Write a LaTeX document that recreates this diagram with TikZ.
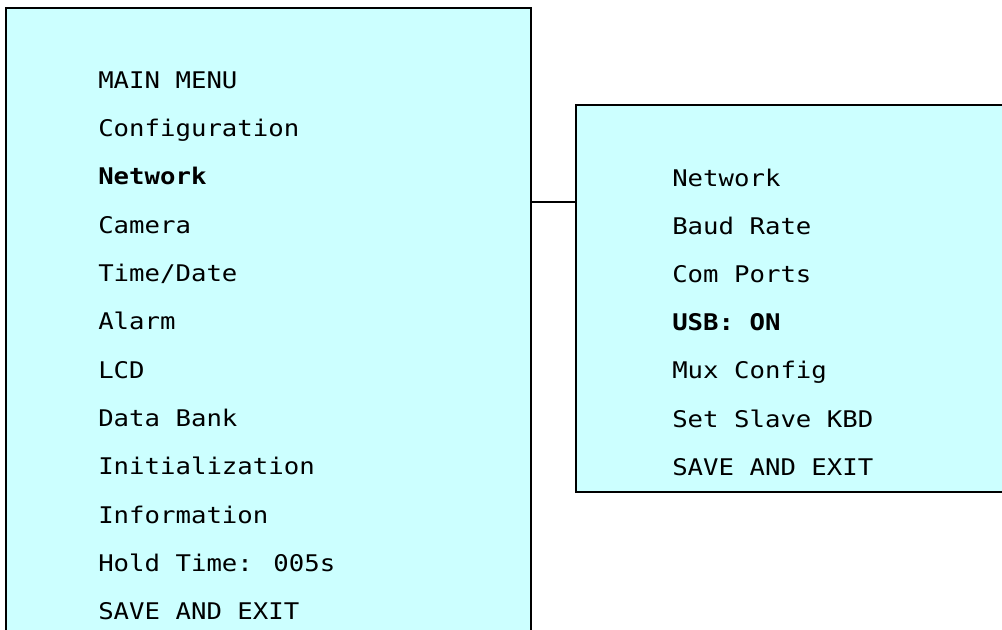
\documentclass[tikz,border=0pt]{standalone}
\usepackage{fontspec}
\newfontfamily\menufont[FakeStretch=1.12]{DejaVu Sans Mono}
\usetikzlibrary{fit}
\definecolor{menufill}{HTML}{CCFFFF}
\tikzset{
  menubox/.style={draw=black, line width=1.5pt, fill=menufill, inner sep=0pt},
  item/.style={anchor=base west, inner sep=0pt, font=\menufont\fontsize{17.2pt}{20pt}\selectfont},
  sel/.style={item, font=\menufont\bfseries\fontsize{17.2pt}{20pt}\selectfont},
  link/.style={draw=black, line width=1.5pt}
}
\begin{document}
\begin{tikzpicture}[x=0.75pt, y=-0.75pt]
\useasboundingbox (0,0) rectangle (1002,629);
% boxes
\coordinate (L1) at (6,7.5);
\coordinate (L2) at (530.5,645);
\node[menubox, fit=(L1)(L2)] (leftbox) {};
\coordinate (R1) at (576,104.5);
\coordinate (R2) at (1012,492);
\node[menubox, fit=(R1)(R2)] (rightbox) {};
% connector
\coordinate (cy) at (0,201.7);
\draw[link] (leftbox.east |- cy) -- (rightbox.west |- cy);
% left menu
\node[item] (m0) at (98,88.3) {MAIN MENU};
\node[item] (m1) at (98,136.6) {Configuration};
\node[sel]  (m2) at (98,184.9) {Network};
\node[item] (m3) at (98,233.2) {Camera};
\node[item] (m4) at (98,281.5) {Time/Date};
\node[item] (m5) at (98,329.8) {Alarm};
\node[item] (m6) at (98,378.1) {LCD};
\node[item] (m7) at (98,426.4) {Data Bank};
\node[item] (m8) at (98,474.7) {Initialization};
\node[item] (m9) at (98,523.0) {Information};
\node[item] (m10) at (98,571.3) {Hold Time: 005s};
\node[item] (m11) at (98,619.3) {SAVE AND EXIT};
% right menu
\node[item] (n0) at (672,186) {Network};
\node[item] (n1) at (672,234.2) {Baud Rate};
\node[item] (n2) at (672,282.4) {Com Ports};
\node[sel]  (n3) at (672,330.6) {USB: ON};
\node[item] (n4) at (672,378.8) {Mux Config};
\node[item] (n5) at (672,427.0) {Set Slave KBD};
\node[item] (n6) at (672,475.2) {SAVE AND EXIT};
\end{tikzpicture}
\end{document}
